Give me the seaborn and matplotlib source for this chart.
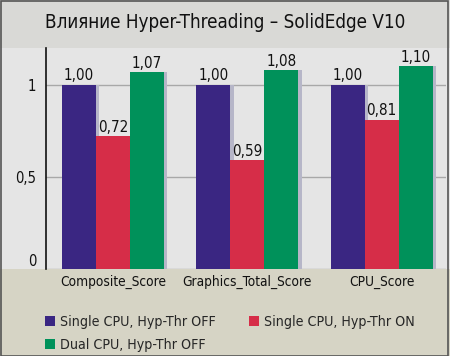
import matplotlib
matplotlib.use("Agg")
import matplotlib.pyplot as plt
import matplotlib.patheffects as pe
from matplotlib.patches import Rectangle, Patch
from matplotlib import font_manager
import seaborn as sns
import pandas as pd

title = "Влияние Hyper-Threading – SolidEdge V10"
tests = ["Composite_Score", "Graphics_Total_Score", "CPU_Score"]
configs = ["Single CPU, Hyp-Thr OFF", "Single CPU, Hyp-Thr ON", "Dual CPU, Hyp-Thr OFF"]
single_off = [1.00, 1.00, 1.00]
single_on = [0.72, 0.59, 0.81]
dual_off = [1.07, 1.08, 1.10]
colors = ["#3a2682", "#d62d48", "#00915a"]
ytick_vals = [0, 0.5, 1]
ytick_labels = ["0", "0,5", "1"]

rows = []
for cfg, vals in zip(configs, [single_off, single_on, dual_off]):
    for t, v in zip(tests, vals):
        rows.append({"test": t, "config": cfg, "score": v})
df = pd.DataFrame(rows)

sns.set_theme(style="white")

fonts = font_manager.fontManager.ttflist
names = {f.name for f in fonts}
stretch = "normal"
if "Liberation Sans Narrow" in names:
    fam = "Liberation Sans Narrow"
    scale = 1.0
elif any(f.name == "DejaVu Sans" and f.stretch == "condensed" for f in fonts):
    fam = "DejaVu Sans"
    stretch = "condensed"
    scale = 0.85
else:
    fam = "Liberation Sans"
    scale = 0.82
plt.rcParams["font.family"] = [fam, "DejaVu Sans"]
plt.rcParams["font.stretch"] = stretch

W, H = 450, 356
fig = plt.figure(figsize=(W / 100, H / 100), dpi=100)
fig.patch.set_facecolor("#d6d4c5")
fig.patches.append(Rectangle((0, 1 - 48 / H), 1, 48 / H, transform=fig.transFigure,
                             facecolor="#d9d9d6", edgecolor="none", zorder=-2))
fig.patches.append(Rectangle((0, 87 / H), 1, (269 - 48) / H, transform=fig.transFigure,
                             facecolor="#e5e5e5", edgecolor="none", zorder=-2))
fig.patches.append(Rectangle((0.5 / W, 0.5 / H), 1 - 2.5 / W, 1 - 1.5 / H, transform=fig.transFigure,
                             facecolor="none", edgecolor="#555555", lw=1.2, zorder=5))

ax = fig.add_axes([46 / W, 87 / H, 400 / W, (269 - 48) / H])
ax.set_facecolor("#e5e5e5")

sns.barplot(data=df, x="test", y="score", hue="config", hue_order=configs,
            palette=colors, saturation=1, width=0.76, gap=0, errorbar=None,
            ax=ax, legend=False, zorder=3, linewidth=0, edgecolor="none")

for bar in ax.patches:
    bar.set_path_effects([pe.SimplePatchShadow(offset=(2.4, 0), shadow_rgbFace="#b6b6c8", alpha=1),
                          pe.Normal()])

for cont in ax.containers:
    ax.bar_label(cont, fmt=lambda v: f"{v:.2f}".replace(".", ","), padding=1,
                 fontsize=12.8 * scale, color="#111111")

ax.set_xlim(-0.5, 2.48)
ax.set_ylim(0, 1.2)
ax.set_yticks(ytick_vals)
ax.set_yticklabels(ytick_labels)
ax.set_xlabel("")
ax.set_ylabel("")
ax.tick_params(axis="both", length=0, labelsize=11.5 * scale, colors="#111111")
ax.tick_params(axis="y", pad=7, labelsize=12.5 * scale)
ax.tick_params(axis="x", pad=4)
for lab in ax.get_yticklabels():
    if lab.get_text() == "0":
        lab.set_verticalalignment("bottom")
for s in ["top", "right", "bottom"]:
    ax.spines[s].set_visible(False)
ax.spines["left"].set_color("#111111")
ax.spines["left"].set_linewidth(1.2)
ax.yaxis.grid(True, color="#a8a8a8", lw=1)
ax.set_axisbelow(True)

fig.text(0.5, 1 - 23 / H, title, ha="center", va="center", fontsize=15.9 * scale, color="#111111")

handles = [Patch(facecolor=c, edgecolor="none") for c in colors]
order = [0, 2, 1]
fig.legend([handles[i] for i in order], [configs[i] for i in order], ncol=2,
           loc="upper left", bbox_to_anchor=(45 / W, 1 - 315 / H), frameon=False,
           fontsize=12 * scale, handlelength=0.6 / scale, handleheight=0.6 / scale,
           handletextpad=0.3 / scale, columnspacing=2.36, labelspacing=0.64,
           borderpad=0, borderaxespad=0)

fig.savefig("out.png", dpi=100, facecolor=fig.get_facecolor())
